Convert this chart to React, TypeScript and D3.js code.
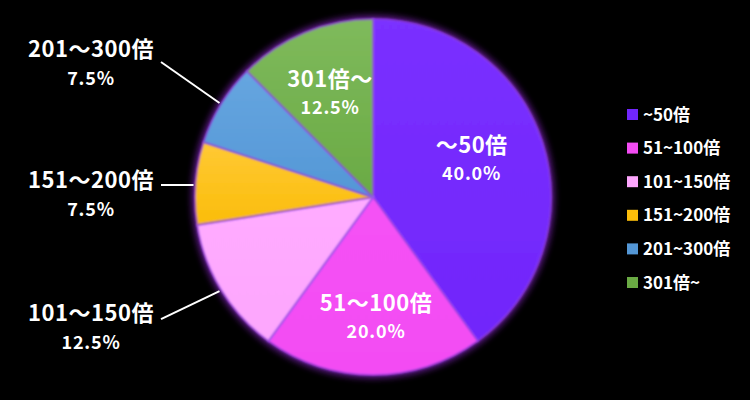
import * as d3 from "d3";

// slice data, clockwise from 12 o'clock
const legendLabels = ["~50倍", "51~100倍", "101~150倍", "151~200倍", "201~300倍", "301倍~"];
const sliceLabels = ["～50倍", "51～100倍", "101～150倍", "151～200倍", "201～300倍", "301倍～"];
const shares = [40.0, 20.0, 12.5, 7.5, 7.5, 12.5];
const colors = ["#7126fb", "#f34cf3", "#fda6fd", "#fbbd0a", "#5497d6", "#6aaa44"];
const lightColors = ["#7a30ff", "#f552f5", "#ffacff", "#ffc935", "#66a6e0", "#7fba5c"];
// label placement: outside labels get a leader line
const outside = [false, false, true, true, true, false];
const outsideShift = [0, 0, 30, 5, -46, 0];
const insideNudge: [number, number][] = [[-8, -3], [3, 8], [-3, -4], [0, 0], [0, 0], [0, 0]];

const W = 750;
const H = 400;
const cx = 373;
const cy = 197;
const R = 178;

export default function App() {
  const pie = d3
    .pie<number>()
    .sort(null)
    .value((d) => d);
  const arcs = pie(shares);
  const arc = d3.arc<d3.PieArcDatum<number>>().innerRadius(0).outerRadius(R);
  const labelArc = d3
    .arc<d3.PieArcDatum<number>>()
    .innerRadius(R * 0.63)
    .outerRadius(R * 0.63);
  const edgeArc = d3
    .arc<d3.PieArcDatum<number>>()
    .innerRadius(R + 2)
    .outerRadius(R + 2);

  const outsideX = 91;
  const legendY = d3.scaleLinear().domain([0, 1]).range([115, 148.6]);

  return (
    <svg
      width={W}
      height={H}
      style={{ position: "fixed", left: 0, top: 0, background: "#000" }}
      fontFamily="'Noto Sans CJK JP', 'Noto Sans', sans-serif"
    >
      <defs>
        <filter id="glow" x="-20%" y="-20%" width="140%" height="140%">
          <feGaussianBlur stdDeviation="3.5" />
        </filter>
        <filter id="soft" x="-5%" y="-5%" width="110%" height="110%">
          <feGaussianBlur stdDeviation="1.2" />
        </filter>
        {colors.map((c, i) => (
          <linearGradient key={i} id={`g${i}`} x1="0" y1="0" x2="0" y2="1">
            <stop offset="0%" stopColor={lightColors[i]} />
            <stop offset="100%" stopColor={c} />
          </linearGradient>
        ))}
      </defs>
      <rect width={W} height={H} fill="#000" />
      <g transform={`translate(${cx},${cy})`}>
        <circle r={R + 3} fill="#a02ce8" opacity={0.65} filter="url(#glow)" />
        <circle r={R + 1} fill="#5e1a7c" />
        {arcs.map((a, i) => (
          <path
            key={i}
            d={arc(a) ?? ""}
            fill={`url(#g${i})`}
            stroke="#9a4cff"
            strokeWidth={2}
            strokeOpacity={0.5}
            filter="url(#soft)"
          />
        ))}
        {arcs.map((a, i) => {
          if (outside[i]) return null;
          const [x0, y0] = labelArc.centroid(a);
          const x = x0 + insideNudge[i][0];
          const y = y0 + insideNudge[i][1];
          return (
            <g key={i} fill="#fff" fontWeight="bold" textAnchor="middle">
              <text x={x} y={y - 6} fontSize={22} letterSpacing={0.5}>
                {sliceLabels[i]}
              </text>
              <text x={x} y={y + 21} fontSize={18} letterSpacing={0.8}>
                {shares[i].toFixed(1)}%
              </text>
            </g>
          );
        })}
      </g>
      {arcs.map((a, i) => {
        if (!outside[i]) return null;
        const [ex, ey] = edgeArc.centroid(a);
        const px = cx + ex;
        const py = cy + ey;
        const ty = py + outsideShift[i];
        const ly = i === 3 ? py + 2 : i === 4 ? ty + 5 : ty - 2;
        return (
          <g key={i}>
            <line x1={161} y1={ly} x2={px} y2={i === 3 ? ly : py} stroke="#fff" strokeWidth={2} />
            <g fill="#fff" fontWeight="bold" textAnchor="middle">
              <text x={outsideX} y={ty} fontSize={22} letterSpacing={0.5}>
                {sliceLabels[i]}
              </text>
              <text x={outsideX} y={ty + 28} fontSize={18} letterSpacing={0.8}>
                {shares[i].toFixed(1)}%
              </text>
            </g>
          </g>
        );
      })}
      {legendLabels.map((l, i) => (
        <g key={i} transform={`translate(627,${legendY(i)})`}>
          <rect x={0} y={-6} width={11} height={11} fill={colors[i]} />
          <text x={16} y={5.5} fontSize={17} fontWeight="bold" fill="#fff">
            {l}
          </text>
        </g>
      ))}
    </svg>
  );
}
